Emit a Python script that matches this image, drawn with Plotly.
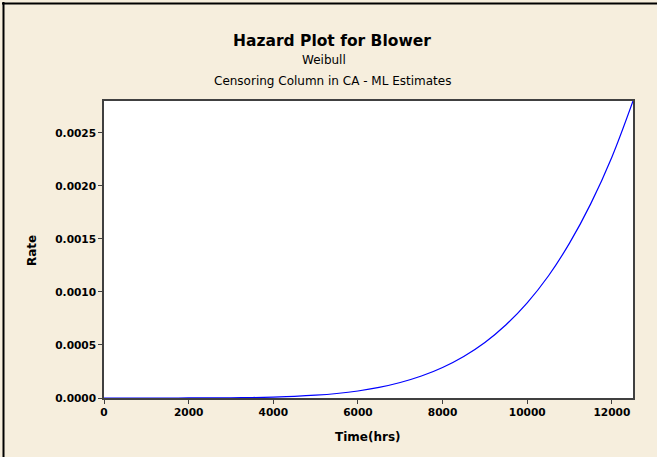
import plotly.graph_objects as go

# Data
time_hrs = [0, 500, 1000, 1500, 2000, 2500, 3000, 3500, 4000, 4500, 5000, 5500,
            6000, 6500, 7000, 7500, 8000, 8500, 9000, 9500, 10000, 10500, 11000,
            11500, 12000, 12500]
rate = [0.0, 0.0, 0.00000001, 0.00000006, 0.00000024, 0.00000076, 0.0000019,
        0.0000043, 0.0000084, 0.0000153, 0.0000262, 0.0000426, 0.0000663,
        0.0000997, 0.000146, 0.000207, 0.000288, 0.000392, 0.000524, 0.000691,
        0.000897, 0.00115, 0.00146, 0.00183, 0.00227, 0.0028]
x_ticks = [0, 2000, 4000, 6000, 8000, 10000, 12000]
y_ticks = [0.0, 0.0005, 0.0010, 0.0015, 0.0020, 0.0025]

W, H = 657, 457
L, R, T, B = 104, 24, 101, 59
pw, ph = W - L - R, H - T - B

def px(x):
    return (x - L) / pw

def py(y):
    return (H - B - y) / ph

bg = "#F6EEDD"
txt = "#000000"
FONT = "DejaVu Sans"

fig = go.Figure()
fig.add_trace(go.Scatter(x=time_hrs, y=rate, mode="lines",
                         line=dict(color="#0000FF", width=1.2, shape="spline"),
                         hoverinfo="skip", showlegend=False))

axis_common = dict(showgrid=False, zeroline=False, showline=True, mirror=True,
                   linecolor="#404040", linewidth=1.5, ticks="outside",
                   ticklen=4, tickwidth=1, tickcolor="#404040",
                   tickfont=dict(family=FONT, size=10.6, color=txt))

fig.update_layout(
    width=W, height=H, margin=dict(l=L, r=R, t=T, b=B),
    paper_bgcolor=bg, plot_bgcolor="#FFFFFF",
    xaxis=dict(range=[0, 12500], tickvals=x_ticks,
               ticktext=[f"<b>{v}</b>" for v in x_ticks], **axis_common),
    yaxis=dict(range=[0, 0.0028], tickvals=y_ticks,
               ticktext=[f"<b>{v:.4f}</b>" for v in y_ticks], **axis_common),
    showlegend=False,
)

annos = [
    dict(text="<b>Hazard Plot for Blower</b>", x=px(332), y=py(41), size=15.5),
    dict(text="Weibull", x=px(324), y=py(60), size=12),
    dict(text="Censoring Column in CA - ML Estimates", x=px(332), y=py(81), size=12),
    dict(text="<b>Time(hrs)</b>", x=px(368), y=py(437), size=12),
]
for a in annos:
    fig.add_annotation(text=a["text"], x=a["x"], y=a["y"], xref="paper", yref="paper",
                       xanchor="center", yanchor="middle", showarrow=False,
                       font=dict(family=FONT, size=a["size"], color=txt))
fig.add_annotation(text="<b>Rate</b>", x=px(32), y=py(251), xref="paper", yref="paper",
                   xanchor="center", yanchor="middle", showarrow=False, textangle=-90,
                   font=dict(family=FONT, size=12, color=txt))

# outer frame lines (left and top)
fig.add_shape(type="line", xref="paper", yref="paper", x0=px(2), x1=px(657),
              y0=py(3.5), y1=py(3.5), line=dict(color="#000000", width=2))
fig.add_shape(type="line", xref="paper", yref="paper", x0=px(3.5), x1=px(3.5),
              y0=py(2), y1=py(457), line=dict(color="#000000", width=2))

fig.write_html("out.html", config={"displayModeBar": False},
               post_script="document.body.style.margin='0';document.body.style.overflow='hidden';")
